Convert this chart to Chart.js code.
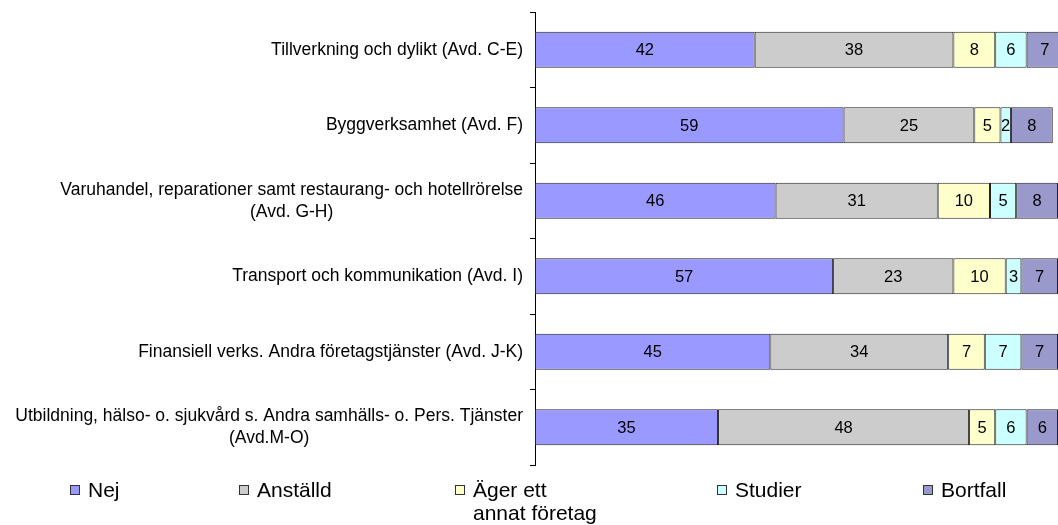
<!DOCTYPE html>
<html>
<head>
<meta charset="utf-8">
<script src="https://cdn.jsdelivr.net/npm/chart.js@4"></script>
<style>
  body { margin: 0; background: #fff; }
  #wrap { width: 1058px; height: 525px; }
</style>
</head>
<body>
<div id="wrap"><canvas id="chart"></canvas></div>
<script>
// kategorier (två rader där etiketten bryts)
const categories = [
  ['Tillverkning och dylikt (Avd. C-E)'],
  ['Byggverksamhet (Avd. F)'],
  ['Varuhandel, reparationer samt restaurang- och hotellrörelse', '(Avd. G-H)'],
  ['Transport och kommunikation (Avd. I)'],
  ['Finansiell verks. Andra företagstjänster (Avd. J-K)'],
  ['Utbildning, hälso- o. sjukvård s. Andra samhälls- o. Pers. Tjänster', '(Avd.M-O)']
];

const seriesNames = ['Nej', 'Anställd', 'Äger ett annat företag', 'Studier', 'Bortfall'];
const legendLines = [['Nej'], ['Anställd'], ['Äger ett', 'annat företag'], ['Studier'], ['Bortfall']];

const nej      = [42, 59, 46, 57, 45, 35];
const anstalld = [38, 25, 31, 23, 34, 48];
const agerEtt  = [8, 5, 10, 10, 7, 5];
const studier  = [6, 2, 5, 3, 7, 6];
const bortfall = [7, 8, 8, 7, 7, 6];

const colors = ['#9999FF', '#CCCCCC', '#FFFFCC', '#CCFFFF', '#9999CC'];
const FONT = "'Liberation Sans', Arial, sans-serif";

// y-axelns etiketter, centrerade rad för rad
const labelPlugin = {
  id: 'catLabels',
  afterDraw(chart) {
    const ctx = chart.ctx;
    const yScale = chart.scales.y;
    ctx.save();
    ctx.font = '17.5px ' + FONT;
    ctx.fillStyle = '#000';
    ctx.textAlign = 'center';
    ctx.textBaseline = 'middle';
    categories.forEach((lines, i) => {
      const y = yScale.getPixelForValue(i);
      const widest = Math.max(...lines.map(l => ctx.measureText(l).width));
      const cx = 523 - widest / 2;
      const lh = 22;
      const y0 = y - (lines.length - 1) * lh / 2;
      lines.forEach((l, j) => ctx.fillText(l, cx, y0 + j * lh));
    });
    ctx.restore();
  }
};

// värden i staplarna
const valuePlugin = {
  id: 'barValues',
  afterDatasetsDraw(chart) {
    const ctx = chart.ctx;
    ctx.save();
    ctx.font = '16.5px ' + FONT;
    ctx.fillStyle = '#000';
    ctx.textAlign = 'center';
    ctx.textBaseline = 'middle';
    chart.data.datasets.forEach((ds, i) => {
      chart.getDatasetMeta(i).data.forEach((el, j) => {
        const p = el.getCenterPoint();
        ctx.fillText(ds.data[j], p.x, p.y + 1);
      });
    });
    ctx.restore();
  }
};

// legend nederst
const legendPlugin = {
  id: 'bottomLegend',
  afterDraw(chart) {
    const ctx = chart.ctx;
    const xs = [70, 239, 455, 717, 923];
    ctx.save();
    ctx.font = '21px ' + FONT;
    ctx.textBaseline = 'middle';
    ctx.textAlign = 'left';
    legendLines.forEach((lines, i) => {
      ctx.fillStyle = colors[i];
      ctx.fillRect(xs[i] + 0.5, 485.5, 9, 9);
      ctx.strokeStyle = '#333';
      ctx.lineWidth = 1;
      ctx.strokeRect(xs[i] + 0.5, 485.5, 9, 9);
      ctx.fillStyle = '#000';
      lines.forEach((l, j) => ctx.fillText(l, xs[i] + 18, 491 + j * 23));
    });
    ctx.restore();
  }
};

const seriesData = [nej, anstalld, agerEtt, studier, bortfall];

new Chart(document.getElementById('chart'), {
  type: 'bar',
  data: {
    labels: categories,
    datasets: seriesData.map((d, i) => ({
      label: seriesNames[i],
      data: d,
      backgroundColor: colors[i],
      borderColor: '#222',
      borderWidth: 1,
      borderSkipped: false,
      barPercentage: 0.48,
      categoryPercentage: 1
    }))
  },
  options: {
    indexAxis: 'y',
    responsive: true,
    maintainAspectRatio: false,
    animation: false,
    layout: { padding: { top: 12, bottom: 60, left: 0, right: 0 } },
    plugins: {
      legend: { display: false },
      tooltip: { enabled: false }
    },
    scales: {
      x: {
        stacked: true,
        display: false,
        min: 0,
        max: 100
      },
      y: {
        stacked: true,
        ticks: { display: false },
        grid: {
          display: true,
          offset: true,
          drawOnChartArea: false,
          drawTicks: true,
          tickLength: 5,
          color: '#000'
        },
        border: { display: true, color: '#000' },
        afterFit(scale) { scale.width = 535; }
      }
    }
  },
  plugins: [labelPlugin, valuePlugin, legendPlugin]
});
</script>
</body>
</html>
